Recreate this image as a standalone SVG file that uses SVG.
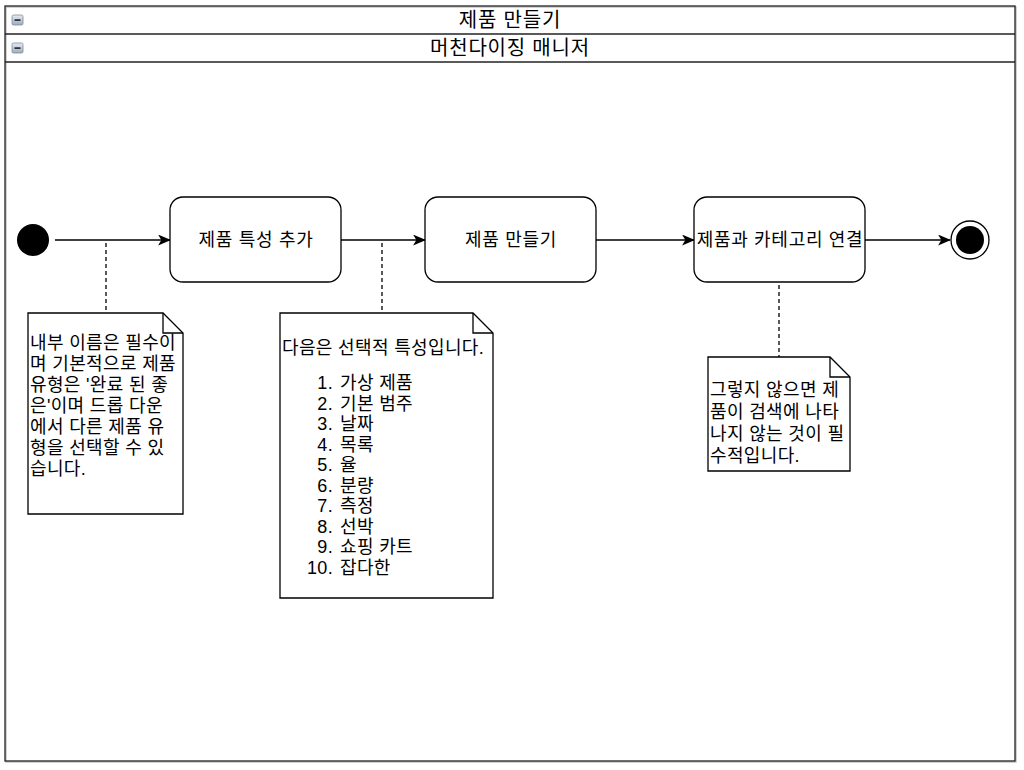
<svg xmlns="http://www.w3.org/2000/svg" width="1024" height="770" viewBox="0 0 1024 770">
<style>
text{font-family:"Liberation Sans","Noto Sans CJK KR",sans-serif;fill:#000}
.hdr{font-size:20px;letter-spacing:0.8px;text-anchor:middle}
.lbl{font-size:18px;letter-spacing:0.7px;text-anchor:middle}
.nt{font-size:18px;letter-spacing:0.35px}
.box{fill:#fff;stroke:#000;stroke-width:1.3}
.frame{fill:none;stroke:#222;stroke-width:1.3}
.edge{fill:none;stroke:#000;stroke-width:1.3}
.dash{fill:none;stroke:#000;stroke-width:1.3;stroke-dasharray:4 3}
</style>
<defs>
<marker id="arr" viewBox="0 0 12 10" refX="11" refY="5" markerWidth="13" markerHeight="11" markerUnits="userSpaceOnUse" orient="auto">
<path d="M0,0 L12,5 L0,10 L3,5 Z" fill="#000"/>
</marker>
<linearGradient id="ig" x1="0" y1="0" x2="0" y2="1">
<stop offset="0" stop-color="#e6ecf4"/>
<stop offset="1" stop-color="#9eabbd"/>
</linearGradient>
<g id="minus">
<rect x="0" y="0" width="11" height="10" rx="1.5" fill="url(#ig)" stroke="#7d8ba0" stroke-width="0.8"/>
<rect x="2.5" y="4.3" width="6" height="1.6" fill="#222"/>
</g>
</defs>
<rect x="0" y="0" width="1024" height="770" fill="#fff"/>
<g id="pool">
<rect x="6" y="7" width="1010" height="755" fill="none" stroke="#bbb" stroke-width="1.3"/>
<rect x="5" y="6" width="1010" height="755" fill="#fff" class="frame"/>
<line x1="5" y1="34" x2="1015" y2="34" class="frame"/>
<line x1="5" y1="62" x2="1015" y2="62" class="frame"/>
<use href="#minus" x="12" y="15"/>
<use href="#minus" x="12" y="43"/>
<text class="hdr" x="510" y="27">제품 만들기</text>
<text class="hdr" x="510" y="55">머천다이징 매니저</text>
</g>
<g id="connectors">
<line x1="55" y1="240" x2="170" y2="240" class="edge" marker-end="url(#arr)"/>
<line x1="341" y1="240" x2="425" y2="240" class="edge" marker-end="url(#arr)"/>
<line x1="596" y1="240" x2="694" y2="240" class="edge" marker-end="url(#arr)"/>
<line x1="865" y1="240" x2="950" y2="240" class="edge" marker-end="url(#arr)"/>
<line x1="106" y1="243" x2="106" y2="313" class="dash"/>
<line x1="382" y1="243" x2="382" y2="313" class="dash"/>
<line x1="779" y1="285" x2="779" y2="357" class="dash"/>
</g>
<g id="start">
<circle cx="33" cy="240" r="16" fill="#000"/>
</g>
<g id="n1">
<rect x="170" y="197" width="171" height="85" rx="13" class="box"/>
<text class="lbl" x="256" y="246">제품 특성 추가</text>
</g>
<g id="n2">
<rect x="425" y="197" width="171" height="85" rx="13" class="box"/>
<text class="lbl" x="511" y="246">제품 만들기</text>
</g>
<g id="n3">
<rect x="694" y="197" width="171" height="85" rx="13" class="box"/>
<text class="lbl" x="780" y="246">제품과 카테고리 연결</text>
</g>
<g id="end">
<circle cx="970" cy="240" r="19" fill="#fff" stroke="#000" stroke-width="1.3"/>
<circle cx="970" cy="240" r="14" fill="#000"/>
</g>
<g id="note1">
<path d="M28,313 H163 L183,333 V514 H28 Z" class="box"/>
<path d="M163,313 V333 H183" class="edge"/>
<text class="nt">
<tspan x="30" y="349">내부 이름은 필수이</tspan>
<tspan x="30" y="370">며 기본적으로 제품</tspan>
<tspan x="30" y="391">유형은 '완료 된 좋</tspan>
<tspan x="30" y="412">은'이며 드롭 다운</tspan>
<tspan x="30" y="433">에서 다른 제품 유</tspan>
<tspan x="30" y="454">형을 선택할 수 있</tspan>
<tspan x="30" y="475">습니다.</tspan>
</text>
</g>
<g id="note2">
<path d="M280,313 H473 L493,333 V598 H280 Z" class="box"/>
<path d="M473,313 V333 H493" class="edge"/>
<text class="nt" x="282" y="354">다음은 선택적 특성입니다.</text>
<text class="nt">
<tspan x="333" y="389" text-anchor="end">1.</tspan><tspan x="340" y="389">가상 제품</tspan>
<tspan x="333" y="409.5" text-anchor="end">2.</tspan><tspan x="340" y="409.5">기본 범주</tspan>
<tspan x="333" y="430" text-anchor="end">3.</tspan><tspan x="340" y="430">날짜</tspan>
<tspan x="333" y="450.5" text-anchor="end">4.</tspan><tspan x="340" y="450.5">목록</tspan>
<tspan x="333" y="471" text-anchor="end">5.</tspan><tspan x="340" y="471">율</tspan>
<tspan x="333" y="491.5" text-anchor="end">6.</tspan><tspan x="340" y="491.5">분량</tspan>
<tspan x="333" y="512" text-anchor="end">7.</tspan><tspan x="340" y="512">측정</tspan>
<tspan x="333" y="532.5" text-anchor="end">8.</tspan><tspan x="340" y="532.5">선박</tspan>
<tspan x="333" y="553" text-anchor="end">9.</tspan><tspan x="340" y="553">쇼핑 카트</tspan>
<tspan x="333" y="573.5" text-anchor="end">10.</tspan><tspan x="340" y="573.5">잡다한</tspan>
</text>
</g>
<g id="note3">
<path d="M708,357 H830 L850,377 V471 H708 Z" class="box"/>
<path d="M830,357 V377 H850" class="edge"/>
<text class="nt">
<tspan x="710" y="396">그렇지 않으면 제</tspan>
<tspan x="710" y="418">품이 검색에 나타</tspan>
<tspan x="710" y="440">나지 않는 것이 필</tspan>
<tspan x="710" y="462">수적입니다.</tspan>
</text>
</g>
</svg>
